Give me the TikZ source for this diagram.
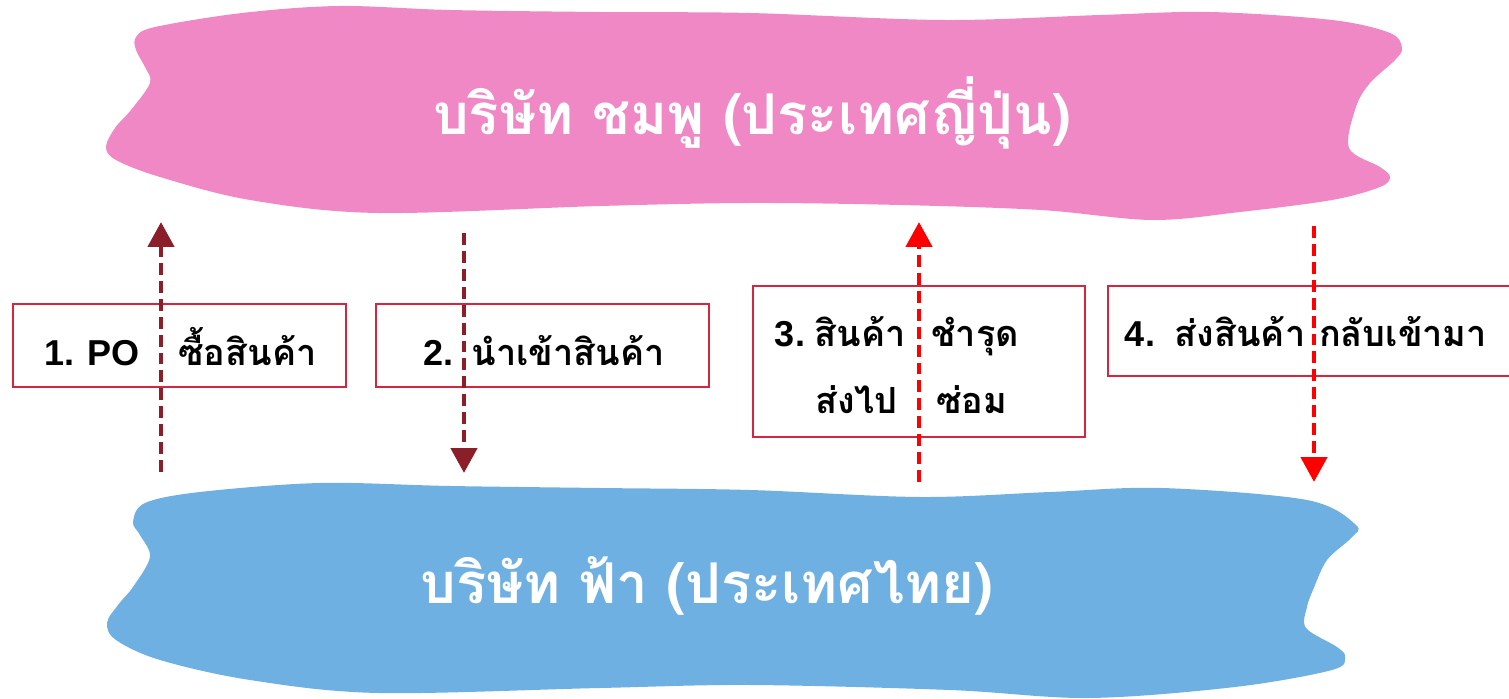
\documentclass[tikz,border=0pt]{standalone}
\usepackage{fontspec}
\setmainfont{Liberation Sans}
\newfontfamily\thaifont[Script=Thai]{Loma}
\usetikzlibrary{arrows.meta}
\definecolor{pinkfill}{RGB}{240,136,198}
\definecolor{bluefill}{RGB}{111,176,226}
\definecolor{boxred}{RGB}{212,38,64}
\definecolor{maroon}{RGB}{139,30,40}
\definecolor{brightred}{RGB}{255,0,0}
\tikzset{
  title/.style={text=white, font=\thaifont\bfseries\fontsize{32}{38}\selectfont, inner sep=0pt, anchor=base},
  lbl/.style={text=black, font=\bfseries\fontsize{20.5}{24}\selectfont, inner sep=0pt, anchor=base},
  thl/.style={lbl, font=\thaifont\bfseries\fontsize{20.5}{24}\selectfont},
  labelbox/.style={draw=boxred, line width=1.2pt, inner sep=0pt, fill=none},
  flow/.style={line width=2.8pt, dash pattern=on 6.8pt off 3.4pt,
     -{Triangle[width=14.7pt,length=14.2pt]}},
}
\begin{document}
\begin{tikzpicture}[x=0.02cm,y=-0.02cm]
\useasboundingbox (0,0) rectangle (1509,699);
\clip (0,0) rectangle (1509,699);
% pink cloud
\fill[pinkfill] plot[smooth cycle, tension=0.55] coordinates {
 (155,27) (242,13) (339,6) (450,10) (600,12) (750,13) (944,20) (1100,15) (1210,12)
 (1332,20) (1390,33) (1402,48) (1395,60) (1370,83) (1356,107) (1349,148) (1380,167)
 (1390,177) (1380,187) (1332,200) (1240,212) (1152,220) (1041,210) (900,205) (750,203)
 (600,206) (378,213) (250,200) (160,177) (116,160) (106,147) (115,128) (131,110)
 (150,83) (145,67) (136,50) (136,37)};
% blue cloud
\fill[bluefill] plot[smooth cycle, tension=0.55] coordinates {
 (145,503) (200,492) (320,483) (450,486) (600,488) (750,490) (920,497) (1050,492)
 (1162,488) (1307,500) (1356,525) (1351,538) (1327,560) (1313,590) (1307,607) (1306,628)
 (1337,647) (1345,657) (1332,670) (1235,687) (1089,698) (950,690) (750,685) (600,688)
 (378,693) (250,680) (160,660) (116,640) (107,623) (118,605) (133,587) (150,557)
 (140,535) (133,522)};
\node[title] (jp) at (752,135) {บริษัท ชมพู (ประเทศญี่ปุ่น)};
\node[title] (th) at (707,603) {บริษัท ฟ้า (ประเทศไทย)};
% boxes
\node[labelbox, minimum width=6.66cm, minimum height=1.66cm] (b1) at (179.5,345.5) {};
\node[labelbox, minimum width=6.66cm, minimum height=1.66cm] (b2) at (542.5,345.5) {};
\node[labelbox, minimum width=6.64cm, minimum height=3.02cm] (b3) at (919,361.5) {};
\node[labelbox, minimum width=8.4cm, minimum height=1.80cm] (b4) at (1318,331) {};
% arrows
\coordinate (a1s) at (161,472); \coordinate (a1e) at (161,222);
\coordinate (a2s) at (464,233); \coordinate (a2e) at (464,473);
\coordinate (a3s) at (919,482); \coordinate (a3e) at (919,222);
\coordinate (a4s) at (1314,226); \coordinate (a4e) at (1314,482);
\draw[flow, maroon] (a1s) -- (a1e);
\draw[flow, maroon] (a2s) -- (a2e);
\draw[flow, brightred] (a3s) -- (a3e);
\draw[flow, brightred] (a4s) -- (a4e);
% labels
\node[lbl] (l1a) at (92,366) {1. PO};
\node[thl] (l1b) at (247.5,366) {ซื้อสินค้า};
\node[lbl] (l2a) at (438.5,366) {2.};
\node[thl] (l2b) at (568,366) {นำเข้าสินค้า};
\node[lbl] (l3a) at (790,347) {3.};
\node[thl] (l3b) at (860,347) {สินค้า};
\node[thl] (l3c) at (975,347) {ชำรุด};
\node[thl] (l3d) at (856.5,414) {ส่งไป};
\node[thl] (l3e) at (971.5,414) {ซ่อม};
\node[lbl] (l4a) at (1140,347) {4.};
\node[thl] (l4b) at (1240,347) {ส่งสินค้า};
\node[thl] (l4c) at (1403,347) {กลับเข้ามา};
\end{tikzpicture}
\end{document}
